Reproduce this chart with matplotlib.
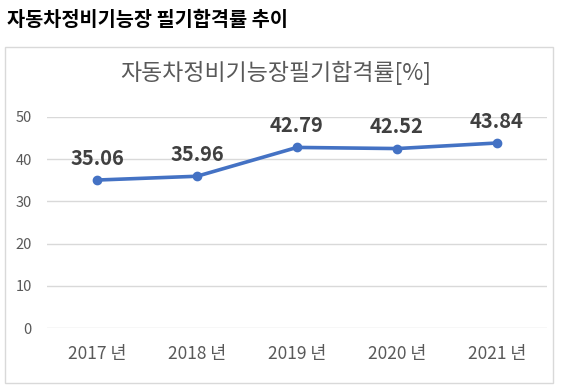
import matplotlib.pyplot as plt
from matplotlib.patches import Rectangle

plt.rcParams['font.family'] = ['Noto Sans CJK KR', 'DejaVu Sans']

years = ['2017 년', '2018 년', '2019 년', '2020 년', '2021 년']
rates = [35.06, 35.96, 42.79, 42.52, 43.84]
yticks = [0, 10, 20, 30, 40, 50]

W, H = 561, 388
fig = plt.figure(figsize=(W/100, H/100), dpi=100)

# outer chart frame
fig.patches.append(Rectangle((5/W, 1-383/H), 548/W, 336/H, transform=fig.transFigure,
                             fill=False, edgecolor='#D9D9D9', linewidth=1))

fig.text(7/W, 1-20/H, '자동차정비기능장 필기합격률 추이', fontsize=14.2, fontweight='bold',
         va='center', ha='left', color='black')
fig.text(276/W, 1-73/H, '자동차정비기능장필기합격률[%]', fontsize=16.5,
         va='center', ha='center', color='#595959')

ax = fig.add_axes([47/W, 1-328/H, 500/W, 211/H])
x = range(len(years))
ax.plot(x, rates, color='#4472C4', linewidth=2.6, marker='o', markersize=6)
for xi, v in zip(x, rates):
    ax.annotate(f'{v:.2f}', (xi, v), xytext=(0, 8), textcoords='offset points',
                ha='center', va='bottom', fontsize=14.5, fontweight='bold', color='#404040')

ax.set_xlim(-0.5, len(years)-0.5)
ax.set_ylim(0, 50)
ax.set_yticks(yticks)
ax.set_xticks(list(x))
ax.set_xticklabels(years)
ax.grid(axis='y', color='#D9D9D9', linewidth=1)
ax.set_axisbelow(True)
for s in ax.spines.values():
    s.set_visible(False)
ax.tick_params(length=0, colors='#595959', labelsize=10.5)
ax.tick_params(axis='x', pad=12, labelsize=12.5)
ax.tick_params(axis='y', pad=11)

fig.savefig('out.png', dpi=100)
